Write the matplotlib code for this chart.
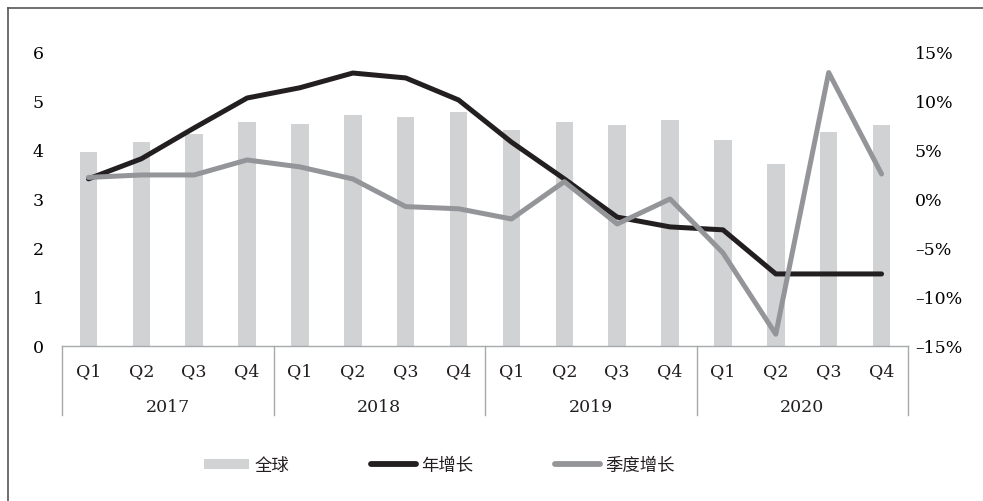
import numpy as np
import matplotlib.pyplot as plt
from matplotlib.patches import Patch
from matplotlib.lines import Line2D

plt.rcParams['font.family'] = ['DejaVu Serif', 'Noto Sans CJK SC']

# donnees
years = ['2017', '2018', '2019', '2020']
quarters = ['Q1', 'Q2', 'Q3', 'Q4']
global_vals = [3.95, 4.16, 4.33, 4.57,
               4.53, 4.71, 4.67, 4.78,
               4.41, 4.57, 4.51, 4.61,
               4.21, 3.71, 4.36, 4.51]
yoy_growth = [3.41, 3.82, 4.45, 5.06,
              5.27, 5.57, 5.47, 5.02,
              4.16, 3.41, 2.63, 2.43,
              2.37, 1.47, 1.47, 1.47]
qoq_growth = [2.2, 2.45, 2.45, 3.98,
              3.27, 2.04, -0.78, -1.0,
              -2.04, 1.77, -2.55, 0.0,
              -5.5, -13.8, 12.9, 2.55]
left_ticks = [0, 1, 2, 3, 4, 5, 6]
right_ticks = [-15, -10, -5, 0, 5, 10, 15]

c_bar = '#d1d2d4'
c_dark = '#231f20'
c_gray = '#939598'
c_axis = '#a7a9ac'

n = len(global_vals)
x = np.arange(n)

fig = plt.figure(figsize=(9.83, 5.02), dpi=100)
ax = fig.add_axes([0.0631, 0.3088, 0.8606, 0.5857])

ax.bar(x, global_vals, width=0.33, color=c_bar, zorder=1)
ax.plot(x, yoy_growth, color=c_dark, lw=3.6, solid_capstyle='round',
        solid_joinstyle='round', zorder=3)
ax.set_xlim(-0.5, n - 0.5)
ax.set_ylim(0, 6)
ax.set_yticks(left_ticks)
ax.set_yticklabels([str(t) for t in left_ticks])
ax.tick_params(axis='y', length=0, pad=13, labelsize=12.5)
ax.set_xticks([])
for s in ['top', 'left', 'right']:
    ax.spines[s].set_visible(False)
ax.spines['bottom'].set_color(c_axis)
ax.spines['bottom'].set_linewidth(1.0)

# axe de droite (croissance trimestrielle)
ax2 = ax.twinx()
ax2.plot(x, qoq_growth, color=c_gray, lw=3.6, solid_capstyle='round',
         solid_joinstyle='round', zorder=4)
ax2.set_ylim(-15, 15)
ax2.set_yticks(right_ticks)
ax2.set_yticklabels([('–' if t < 0 else '') + '%d%%' % abs(t) for t in right_ticks])
ax2.tick_params(axis='y', length=0, pad=5, labelsize=12.5)
for s in ['top', 'left', 'right', 'bottom']:
    ax2.spines[s].set_visible(False)

# axe des categories a deux niveaux
trans = ax.get_xaxis_transform()
for i in range(n):
    ax.text(x[i], -0.085, quarters[i % 4], transform=trans, ha='center',
            va='center', fontsize=12.5, color='#231f20')
for k in range(len(years) + 1):
    xs = k * 4 - 0.5
    ax.plot([xs, xs], [0, -0.235], transform=trans, color=c_axis, lw=1.0,
            clip_on=False)
for k, yr in enumerate(years):
    ax.text(k * 4 + 1.5, -0.2075, yr, transform=trans, ha='center',
            va='center', fontsize=12.5, color='#231f20')

# legende
handles = [Patch(facecolor=c_bar, edgecolor='none'),
           Line2D([], [], color=c_dark, lw=4.2, solid_capstyle='round'),
           Line2D([], [], color=c_gray, lw=4.2, solid_capstyle='round')]
labels = ['全球', '年增长', '季度增长']
leg = fig.legend(handles, labels, loc='center', bbox_to_anchor=(0.447, 0.072),
                 ncol=3, frameon=False, handlelength=2.6, handleheight=0.5,
                 handletextpad=0.3, columnspacing=4.7,
                 prop={'family': ['Noto Sans CJK SC'], 'size': 12.5})
for t in leg.get_texts():
    t.set_color('#231f20')

# cadre
fig.add_artist(Line2D([8 / 983, 8 / 983], [0, 1 - 9 / 502], color='#555555',
                      lw=1.2, transform=fig.transFigure))
fig.add_artist(Line2D([8 / 983, 1], [1 - 9 / 502, 1 - 9 / 502], color='#555555',
                      lw=1.2, transform=fig.transFigure))

fig.savefig('out.png', dpi=100)
